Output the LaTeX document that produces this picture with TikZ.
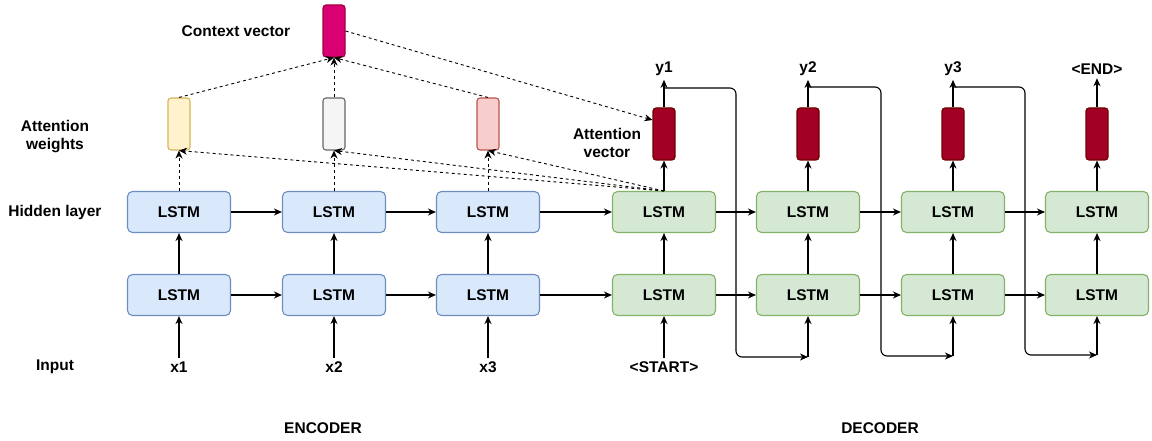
\documentclass[tikz,border=0pt]{standalone}
\usepackage{fontspec}
\setmainfont{Liberation Sans}
\usetikzlibrary{arrows.meta}

\definecolor{encfill}{HTML}{DAE8FC}
\definecolor{encline}{HTML}{6C8EBF}
\definecolor{decfill}{HTML}{D5E8D4}
\definecolor{decline}{HTML}{82B366}
\definecolor{yfill}{HTML}{FFF2CC}
\definecolor{yline}{HTML}{D6B656}
\definecolor{gfill}{HTML}{F5F5F5}
\definecolor{gline}{HTML}{666666}
\definecolor{rfill}{HTML}{F8CECC}
\definecolor{rline}{HTML}{B85450}
\definecolor{ctxfill}{HTML}{D80073}
\definecolor{ctxline}{HTML}{A50040}
\definecolor{avfill}{HTML}{A20025}
\definecolor{avline}{HTML}{6F0000}

\begin{document}
\begin{tikzpicture}[x=1pt,y=-1pt,>={Stealth[length=8pt,width=7pt,inset=2.5pt]},line width=1.1pt,
 font=\fontsize{15.5}{18}\selectfont\bfseries,
 enc/.style={draw=encline,fill=encfill,rounded corners=5pt,minimum width=103pt,minimum height=41pt},
 dec/.style={enc,draw=decline,fill=decfill},
 vec/.style={draw,rounded corners=3pt,minimum width=22pt,minimum height=52pt,inner sep=0pt},
 att/.style={->,line width=0.9pt,dash pattern=on 3pt off 3pt},
 lab/.style={align=center}]
\useasboundingbox (0,0) rectangle (1152,441);
% encoder
\node[enc] (h1) at (179,212) {LSTM};
\node[enc] (h2) at (334,212) {LSTM};
\node[enc] (h3) at (488,212) {LSTM};
\node[enc] (l1) at (179,295) {LSTM};
\node[enc] (l2) at (334,295) {LSTM};
\node[enc] (l3) at (488,295) {LSTM};
% decoder
\node[dec] (dh1) at (664,212) {LSTM};
\node[dec] (dh2) at (808,212) {LSTM};
\node[dec] (dh3) at (953,212) {LSTM};
\node[dec] (dh4) at (1097,212) {LSTM};
\node[dec] (dl1) at (664,295) {LSTM};
\node[dec] (dl2) at (808,295) {LSTM};
\node[dec] (dl3) at (953,295) {LSTM};
\node[dec] (dl4) at (1097,295) {LSTM};
% attention weights, context and attention vectors
\node[vec,draw=yline,fill=yfill] (w1) at (179,124) {};
\node[vec,draw=gline,fill=gfill] (w2) at (334,124) {};
\node[vec,draw=rline,fill=rfill] (w3) at (488,124) {};
\node[vec,draw=ctxline,fill=ctxfill] (cv) at (334,31) {};
\node[vec,draw=avline,fill=avfill] (av1) at (664,134) {};
\node[vec,draw=avline,fill=avfill] (av2) at (808,134) {};
\node[vec,draw=avline,fill=avfill] (av3) at (953,134) {};
\node[vec,draw=avline,fill=avfill] (av4) at (1097,134) {};
% inputs and outputs
\node (x1) at (179,367) {x1};
\node (x2) at (334,367) {x2};
\node (x3) at (488,367) {x3};
\node (st) at (664,367) {<START>};
\node (y1) at (664,69) {y1};
\node (y2) at (808,69) {y2};
\node (y3) at (953,69) {y3};
\node (en) at (1097,69) {<END>};
% captions
\node (inp) at (55,367) {Input};
\node (hid) at (55,212) {Hidden layer};
\node[lab] (atw) at (55,137) {Attention\\weights};
\node (ctx) at (236,31) {Context vector};
\node[lab] (atv) at (607,143) {Attention\\vector};
\node (encl) at (323,428) {ENCODER};
\node (decl) at (880,428) {DECODER};
% recurrent connections
\draw[->] (h1) -- (h2);
\draw[->] (h2) -- (h3);
\draw[->] (h3) -- (dh1);
\draw[->] (dh1) -- (dh2);
\draw[->] (dh2) -- (dh3);
\draw[->] (dh3) -- (dh4);
\draw[->] (l1) -- (l2);
\draw[->] (l2) -- (l3);
\draw[->] (l3) -- (dl1);
\draw[->] (dl1) -- (dl2);
\draw[->] (dl2) -- (dl3);
\draw[->] (dl3) -- (dl4);
% inputs upwards
\draw[->] (x1) -- (l1);
\draw[->] (x2) -- (l2);
\draw[->] (x3) -- (l3);
\draw[->] (st) -- (dl1);
\draw[->] (l1) -- (h1);
\draw[->] (l2) -- (h2);
\draw[->] (l3) -- (h3);
\draw[->] (dl1) -- (dh1);
\draw[->] (dl2) -- (dh2);
\draw[->] (dl3) -- (dh3);
\draw[->] (dl4) -- (dh4);
% attention
\draw[att] (h1) -- (w1);
\draw[att] (h2) -- (w2);
\draw[att] (h3) -- (w3);
\draw[att] (dh1.north) -- (w1.south);
\draw[att] (dh1.north) -- (w2.south);
\draw[att] (dh1.north) -- (w3.south);
\draw[att] (w1.north) -- (cv.south);
\draw[att] (w2.north) -- (cv.south);
\draw[att] (w3.north) -- (cv.south);
\draw[att] (cv.east) -- ([yshift=14pt]av1.west);
% outputs
\draw[->] (dh1) -- (av1);
\draw[->] (dh2) -- (av2);
\draw[->] (dh3) -- (av3);
\draw[->] (dh4) -- (av4);
\draw[->] (av1) -- (y1);
\draw[->] (av2) -- (y2);
\draw[->] (av3) -- (y3);
\draw[->] (av4) -- (en);
% feed previous output back in
\coordinate (t1) at (664,88);
\coordinate (t2) at (808,87);
\coordinate (t3) at (953,87);
\coordinate (b1) at (808,357);
\coordinate (b2) at (953,356);
\coordinate (b3) at (1097,355);
\draw[->,rounded corners=6pt] (t1) -| (736,357) -- (b1);
\draw[->,rounded corners=6pt] (t2) -| (881,356) -- (b2);
\draw[->,rounded corners=6pt] (t3) -| (1025,355) -- (b3);
\draw[->] (b1) -- (dl2);
\draw[->] (b2) -- (dl3);
\draw[->] (b3) -- (dl4);
\end{tikzpicture}
\end{document}
